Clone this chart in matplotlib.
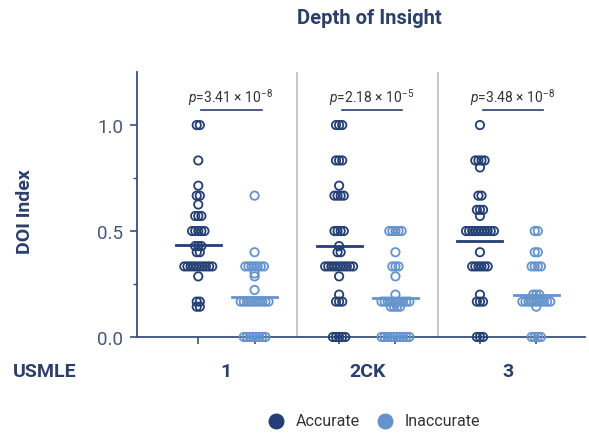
import matplotlib
matplotlib.use('Agg')
import matplotlib.pyplot as plt
import matplotlib.transforms as mtransforms
import numpy as np

plt.rcParams['font.family'] = ['Roboto', 'DejaVu Sans']
plt.rcParams['mathtext.fontset'] = 'custom'
plt.rcParams['mathtext.rm'] = 'Roboto'
plt.rcParams['mathtext.it'] = 'Roboto:italic'

# exam groups
groups = ['1', '2CK', '3']
p_labels = [r'$p$=3.41 × 10$^{-8}$', r'$p$=2.18 × 10$^{-5}$', r'$p$=3.48 × 10$^{-8}$']

# DOI index values, (value, count) per group
accurate = [
    [(1.0, 2), (0.833, 1), (0.714, 1), (0.667, 2), (0.625, 1), (0.571, 3), (0.5, 5),
     (0.429, 3), (0.4, 2), (0.333, 10), (0.286, 1), (0.167, 2), (0.143, 2)],
    [(1.0, 3), (0.833, 3), (0.714, 1), (0.667, 4), (0.5, 4), (0.429, 1), (0.4, 2),
     (0.333, 10), (0.286, 1), (0.2, 1), (0.167, 3), (0.0, 5)],
    [(1.0, 1), (0.833, 4), (0.8, 1), (0.667, 2), (0.6, 3), (0.571, 1), (0.5, 10),
     (0.4, 1), (0.333, 6), (0.2, 1), (0.167, 3), (0.0, 3)],
]
inaccurate = [
    [(0.667, 1), (0.4, 1), (0.333, 7), (0.3, 1), (0.286, 1), (0.222, 1), (0.167, 10), (0.0, 8)],
    [(0.5, 5), (0.4, 1), (0.333, 3), (0.286, 1), (0.2, 1), (0.167, 10), (0.143, 4), (0.0, 10)],
    [(0.5, 2), (0.4, 2), (0.333, 4), (0.2, 3), (0.167, 10), (0.143, 1), (0.0, 4)],
]
acc_means = [0.434, 0.429, 0.453]
inacc_means = [0.189, 0.184, 0.198]

navy = '#233f73'
light = '#6593cc'
text_col = '#2b3f6b'

fig = plt.figure(figsize=(5.89, 4.35), dpi=100)
ax = fig.add_axes([0.2326, 0.223, 0.7604, 0.609])


def swarm(ax, x0, pairs, color, step=0.022):
    for val, n in pairs:
        offs = (np.arange(n) - (n - 1) / 2) * step
        ax.scatter(x0 + offs, [val] * n, s=36, facecolors='none',
                   edgecolors=color, linewidths=1.3, zorder=3, clip_on=False)


for i in range(len(groups)):
    swarm(ax, i - 0.2, accurate[i], navy)
    swarm(ax, i + 0.2, inaccurate[i], light)
    ax.plot([i - 0.36, i - 0.04], [acc_means[i]] * 2, color=navy, lw=2, zorder=4)
    ax.plot([i + 0.04, i + 0.36], [inacc_means[i]] * 2, color=light, lw=2, zorder=4)
    # p-value bracket
    ax.plot([i - 0.18, i + 0.25], [1.07, 1.07], color=text_col, lw=1.2)
    ax.text(i + 0.03, 1.083, p_labels[i], ha='center', va='bottom',
            fontsize=10, color='#333333')

for xs in [0.5, 1.5]:
    ax.axvline(xs, color='#c4c4c4', lw=1.3, zorder=1)

ax.set_xlim(-0.635, 2.545)
ax.set_ylim(0, 1.25)
ax.set_yticks([0, 0.5, 1.0])
ax.set_yticks([0.25, 0.75], minor=True)
ax.set_yticklabels(['0.0', '0.5', '1.0'])
xt = []
for i in range(len(groups)):
    xt += [i - 0.2, i + 0.2]
ax.set_xticks(xt)
ax.set_xticklabels([])
for s in ['top', 'right']:
    ax.spines[s].set_visible(False)
for s in ['left', 'bottom']:
    ax.spines[s].set_color('#3a4f7a')
    ax.spines[s].set_linewidth(1.3)
ax.tick_params(axis='both', color='#3a4f7a', width=1.2, length=5)
ax.tick_params(axis='y', which='minor', color='#3a4f7a', width=1.0, length=3)
ax.tick_params(axis='y', labelsize=13.5, labelcolor='#4a5675', pad=5)

trans = mtransforms.blended_transform_factory(ax.transData, ax.transAxes)
for i, g in enumerate(groups):
    ax.text(i, -0.128, g, transform=trans, ha='center', va='center',
            fontsize=14, fontweight='bold', color=text_col)

fig.text(0.022, 0.145, 'USMLE', ha='left', va='center', fontsize=14,
         fontweight='bold', color=text_col)
fig.text(0.627, 0.957, 'Depth of Insight', ha='center', va='center',
         fontsize=14.5, fontweight='bold', color=text_col)
fig.text(0.042, 0.514, 'DOI Index', ha='center', va='center', rotation=90,
         fontsize=14, fontweight='bold', color=text_col)

h1 = ax.scatter([], [], s=110, color=navy, label='Accurate')
h2 = ax.scatter([], [], s=110, color=light, label='Inaccurate')
fig.legend(handles=[h1, h2], loc='center', bbox_to_anchor=(0.628, 0.03), ncol=2,
           frameon=False, fontsize=11.5, handletextpad=0.2, columnspacing=0.6,
           labelcolor='#333333')

plt.savefig('out.png', dpi=100)
plt.close()
